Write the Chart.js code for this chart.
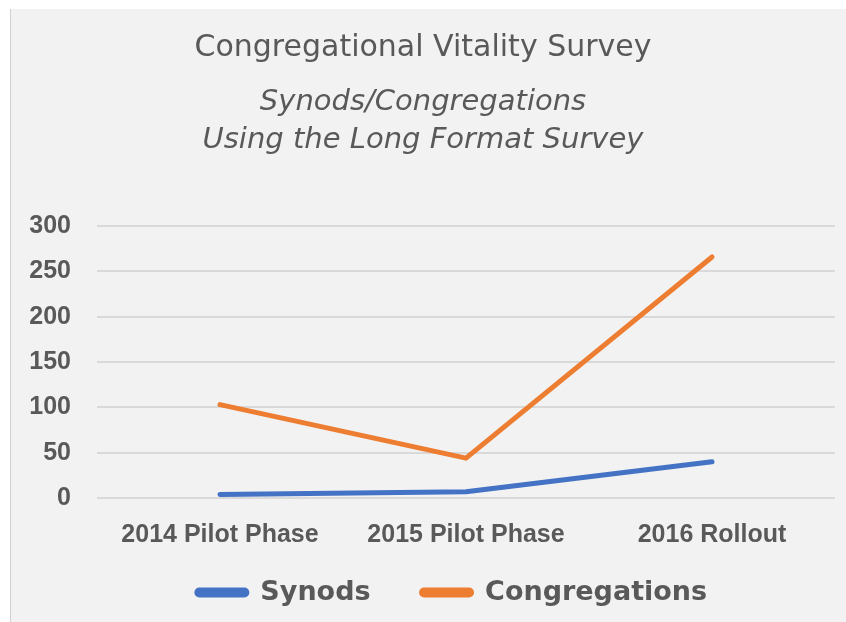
<!DOCTYPE html>
<html>
<head>
<meta charset="utf-8">
<script src="https://cdn.jsdelivr.net/npm/chart.js@4"></script>
<style>
  html, body { margin: 0; padding: 0; background: #ffffff; }
  .frame {
    position: absolute; left: 10px; top: 9px;
    width: 835px; height: 613px;
    background: #f2f2f2;
    border-left: 1px solid #d0d0d0;
  }
  canvas { display: block; }
</style>
</head>
<body>
<div class="frame">
  <canvas id="surveyChart" width="835" height="613"></canvas>
</div>
<script>
// data
const phases = ['2014 Pilot Phase', '2015 Pilot Phase', '2016 Rollout'];
const synods = [4, 7, 40];
const congregations = [103, 44, 266];
const yTicks = [0, 50, 100, 150, 200, 250, 300];

const gray = '#595959';

// legend padding is wide (gap between the two items) but the legend
// should not take that much height, so pull its box up a bit
const legendShift = 44;
const legendNudge = 14;
const tightLegend = {
    id: 'tightLegend',
    beforeLayout(chart) {
        const lg = chart.legend;
        if (!lg || lg._tight) return;
        const fit = lg.fit;
        const draw = lg.draw;
        lg.fit = function () { fit.call(this); this.height -= legendShift; };
        lg.draw = function () {
            this.top -= legendShift;
            this.left -= legendNudge;
            this.right -= legendNudge;
            draw.call(this);
            this.top += legendShift;
            this.left += legendNudge;
            this.right += legendNudge;
        };
        lg._tight = true;
    }
};

const ctx = document.getElementById('surveyChart').getContext('2d');
const surveyChart = new Chart(ctx, {
    type: 'line',
    data: {
        labels: phases,
        datasets: [{
            label: 'Synods',
            data: synods,
            borderColor: '#4472c4',
            backgroundColor: '#4472c4',
            borderWidth: 5,
            borderCapStyle: 'round',
            borderJoinStyle: 'round',
            pointRadius: 0,
            tension: 0
        }, {
            label: 'Congregations',
            data: congregations,
            borderColor: '#ed7d31',
            backgroundColor: '#ed7d31',
            borderWidth: 5,
            borderCapStyle: 'round',
            borderJoinStyle: 'round',
            pointRadius: 0,
            tension: 0
        }]
    },
    plugins: [tightLegend],
    options: {
        responsive: false,
        animation: false,
        layout: {
            padding: { left: 0, right: 11, top: 0, bottom: 6 }
        },
        plugins: {
            title: {
                display: true,
                text: 'Congregational Vitality Survey',
                color: gray,
                font: { family: 'DejaVu Sans', size: 30, weight: 'normal', lineHeight: 1.2 },
                padding: { top: 21, bottom: 17 }
            },
            subtitle: {
                display: true,
                text: ['Synods/Congregations', 'Using the Long Format Survey'],
                color: gray,
                font: { family: 'DejaVu Sans', size: 29, style: 'italic', weight: 'normal', lineHeight: 1.33 },
                padding: { top: 0, bottom: 66 }
            },
            legend: {
                position: 'bottom',
                fullSize: false,
                labels: {
                    color: gray,
                    font: { family: 'DejaVu Sans', size: 27, weight: 'bold' },
                    boxWidth: 50,
                    boxHeight: 5,
                    useBorderRadius: true,
                    borderRadius: 2.5,
                    padding: 51
                }
            },
            tooltip: { enabled: false }
        },
        scales: {
            x: {
                offset: true,
                grid: { display: false, drawTicks: false },
                border: { display: false },
                ticks: {
                    color: gray,
                    padding: 22,
                    maxRotation: 0,
                    font: { family: 'Liberation Sans', size: 25, weight: 'bold' }
                }
            },
            y: {
                min: 0,
                max: 300,
                afterFit: (scale) => { scale.width = 86; },
                afterBuildTicks: (scale) => { scale.ticks = yTicks.map(v => ({ value: v })); },
                grid: { color: '#d9d9d9', lineWidth: 2, drawTicks: false },
                border: { display: false },
                ticks: {
                    color: gray,
                    padding: 26,
                    font: { family: 'Liberation Sans', size: 25, weight: 'bold' }
                }
            }
        }
    }
});
</script>
</body>
</html>
